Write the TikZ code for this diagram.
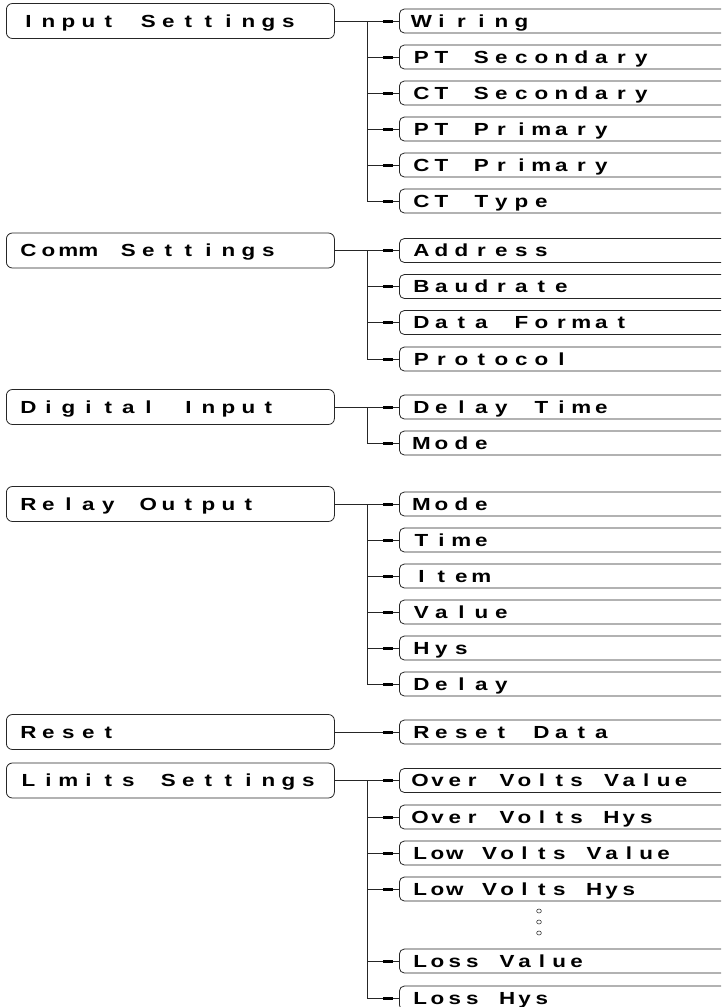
\documentclass[tikz,border=0pt]{standalone}
\usepackage{fontspec}
\setmainfont{Liberation Sans}[FakeStretch=1.28]
\makeatletter
\newcommand\monotext[2]{\@tfor\mch:=#2\do{\makebox[#1][c]{\mch}}}
\makeatother
\tikzset{
  boxfont/.style={font=\fontsize{17.5}{19}\selectfont\bfseries},
  pbox/.style={draw=black!85, line width=0.8pt, rounded corners=6pt, anchor=west,
    minimum height=35pt, inner xsep=12pt, inner ysep=0pt, text width=304pt, align=left,
    text height=12.5pt, text depth=0pt, boxfont},
  cbox/.style={draw=black!85, line width=0.8pt, rounded corners=5pt, anchor=west,
    minimum height=24pt, inner xsep=12pt, inner ysep=0pt, text width=317pt, align=left,
    text height=12.5pt, text depth=0pt, boxfont},
  link/.style={draw=black!85, line width=0.8pt},
  stub/.style={draw=black, line width=3pt},
  dot/.style={draw=black!80, line width=0.6pt},
}
\begin{document}
\begin{tikzpicture}[x=1pt, y=-1pt]
\useasboundingbox (0,0) rectangle (721,1007);
\clip (0,0) rectangle (721,1007);
\fill[white] (0,0) rectangle (721,1007);

% ---------- parents ----------
\node[pbox] (p1) at (6,21)    {\monotext{20pt}{Input~Settings}};
\node[pbox] (p2) at (6,250.5) {\monotext{20pt}{Comm~Settings}};
\node[pbox] (p3) at (6,407)   {\monotext{20pt}{Digital~Input}};
\node[pbox] (p4) at (6,504)   {\monotext{20pt}{Relay~Output}};
\node[pbox] (p5) at (6,732)   {\monotext{20pt}{Reset}};
\node[pbox] (p6) at (6,780.5) {\monotext{20pt}{Limits~Settings}};

% ---------- children ----------
\node[cbox] (a1) at (399,21)  {\monotext{20pt}{Wiring}};
\node[cbox] (a2) at (399,57)  {\monotext{20pt}{PT~Secondary}};
\node[cbox] (a3) at (399,93)  {\monotext{20pt}{CT~Secondary}};
\node[cbox] (a4) at (399,129) {\monotext{20pt}{PT~Primary}};
\node[cbox] (a5) at (399,165) {\monotext{20pt}{CT~Primary}};
\node[cbox] (a6) at (399,201) {\monotext{20pt}{CT~Type}};

\node[cbox] (b1) at (399,250.5) {\monotext{20pt}{Address}};
\node[cbox] (b2) at (399,286.5) {\monotext{20pt}{Baudrate}};
\node[cbox] (b3) at (399,322.5) {\monotext{20pt}{Data~Format}};
\node[cbox] (b4) at (399,359)   {\monotext{20pt}{Protocol}};

\node[cbox] (d1) at (399,407) {\monotext{20pt}{Delay~Time}};
\node[cbox] (d2) at (399,443) {\monotext{20pt}{Mode}};

\node[cbox] (r1) at (399,504) {\monotext{20pt}{Mode}};
\node[cbox] (r2) at (399,540) {\monotext{20pt}{Time}};
\node[cbox] (r3) at (399,576) {\monotext{20pt}{Item}};
\node[cbox] (r4) at (399,612) {\monotext{20pt}{Value}};
\node[cbox] (r5) at (399,648) {\monotext{20pt}{Hys}};
\node[cbox] (r6) at (399,684) {\monotext{20pt}{Delay}};

\node[cbox] (s1) at (399,732) {\monotext{20pt}{Reset~Data}};

\node[cbox] (l1) at (399,780.5) {\monotext{17.4pt}{Over~Volts~Value}};
\node[cbox] (l2) at (399,817)   {\monotext{17.4pt}{Over~Volts~Hys}};
\node[cbox] (l3) at (399,853)   {\monotext{17.4pt}{Low~Volts~Value}};
\node[cbox] (l4) at (399,889)   {\monotext{17.4pt}{Low~Volts~Hys}};
\node[cbox] (l5) at (399,961)   {\monotext{17.4pt}{Loss~Value}};
\node[cbox] (l6) at (399,998)   {\monotext{17.4pt}{Loss~Hys}};

% ---------- trunks ----------
\coordinate (t1) at (367,21);
\coordinate (t2) at (367,250.5);
\coordinate (t3) at (367,407);
\coordinate (t4) at (367,504);
\coordinate (t5) at (367,732);
\coordinate (t6) at (367,780.5);

\draw[link] (p1.east) -- (t1) -- (t1 |- a6.west);
\draw[link] (p2.east) -- (t2) -- (t2 |- b4.west);
\draw[link] (p3.east) -- (t3) -- (t3 |- d2.west);
\draw[link] (p4.east) -- (t4) -- (t4 |- r6.west);
\draw[link] (p5.east) -- (t5);
\draw[link] (p6.east) -- (t6) -- (t6 |- l6.west);

\foreach \c/\t in {a1/t1,a2/t1,a3/t1,a4/t1,a5/t1,a6/t1,
                   b1/t2,b2/t2,b3/t2,b4/t2,
                   d1/t3,d2/t3,
                   r1/t4,r2/t4,r3/t4,r4/t4,r5/t4,r6/t4,
                   s1/t5,
                   l1/t6,l2/t6,l3/t6,l4/t6,l5/t6,l6/t6}{
  \draw[link] (\t |- \c.west) -- (\c.west);
  \draw[stub] ([xshift=-16pt]\c.west) -- ([xshift=-6pt]\c.west);
}

% ---------- ellipsis dots ----------
\coordinate (e1) at (539,911);
\coordinate (e2) at (539,922);
\coordinate (e3) at (539,933);
\foreach \e in {e1,e2,e3}
  \draw[dot] (\e) ellipse [x radius=2.4pt, y radius=2pt];
\end{tikzpicture}
\end{document}
